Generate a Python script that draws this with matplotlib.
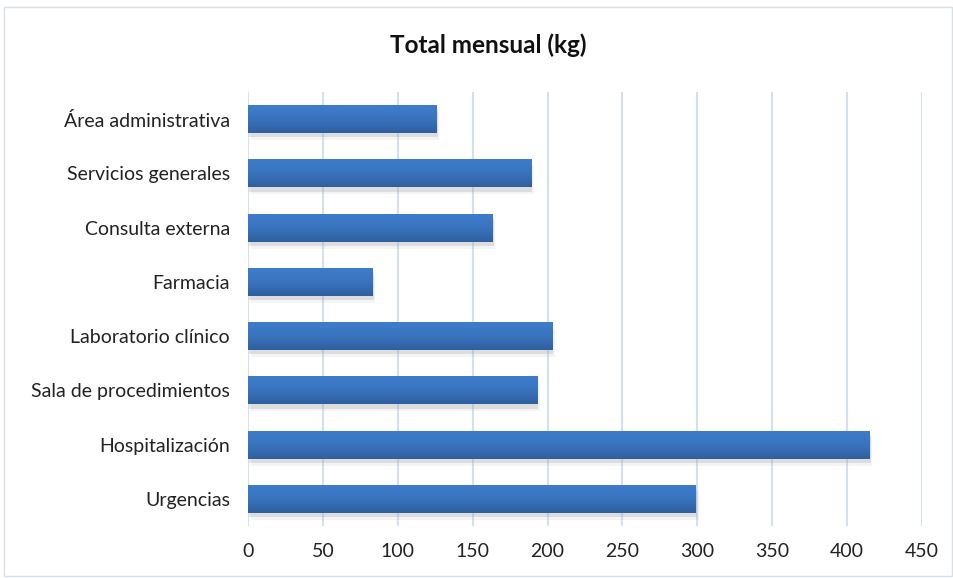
import matplotlib
matplotlib.use("Agg")
import matplotlib.pyplot as plt
import matplotlib.patheffects as pe
import numpy as np
from matplotlib.patches import Rectangle
from matplotlib.colors import LinearSegmentedColormap

categories = ["Urgencias", "Hospitalización", "Sala de procedimientos",
              "Laboratorio clínico", "Farmacia", "Consulta externa",
              "Servicios generales", "Área administrativa"]
values = [299, 415, 193, 203, 83, 163, 189, 126]
xticks = [0, 50, 100, 150, 200, 250, 300, 350, 400, 450]
title = "Total mensual (kg)"

plt.rcParams['font.family'] = ['Lato', 'DejaVu Sans']

fig = plt.figure(figsize=(9.54, 5.78), dpi=100)
fig.patch.set_facecolor("white")
# outer chart border
fig.add_artist(Rectangle((4/954, 2/578), 948/954, 569/578, transform=fig.transFigure,
                         fill=False, edgecolor="#d9dfe8", linewidth=1.0))

ax = fig.add_axes([248/954, 1 - 526/578, (922 - 248)/954, (526 - 92)/578])
ax.set_xlim(0, 450)
ax.set_ylim(-0.5, len(categories) - 0.5)

grid_color = "#d3e0f0"
for t in xticks:
    ax.axvline(t, color=grid_color, linewidth=1.5, zorder=0)

y = np.arange(len(categories))
bars = ax.barh(y, values, height=0.52, color="#3466ad", zorder=2,
               path_effects=[pe.SimplePatchShadow(offset=(1, -3), shadow_rgbFace="#999999", alpha=0.25),
                             pe.SimplePatchShadow(offset=(2, -5), shadow_rgbFace="#aaaaaa", alpha=0.12),
                             pe.Normal()])

grad = np.linspace(0, 1, 100).reshape(-1, 1)
cmap = LinearSegmentedColormap.from_list("g", ["#3e7dcc", "#3a74bf", "#2e5f9e"])
for b in bars:
    x0, y0 = b.get_x(), b.get_y()
    w, h = b.get_width(), b.get_height()
    im = ax.imshow(grad, extent=[x0, x0 + w, y0, y0 + h], origin="lower",
                   cmap=cmap.reversed(), aspect="auto", zorder=3, interpolation="bicubic")
    im.set_clip_path(b)

ax.set_xlim(0, 450)
ax.set_ylim(-0.5, len(categories) - 0.5)
ax.set_xticks(xticks)
ax.set_xticklabels([str(t) for t in xticks], fontsize=14, color="#222222")
ax.set_yticks(y)
ax.set_yticklabels(categories, fontsize=14, color="#222222")
ax.tick_params(axis="both", length=0)
ax.tick_params(axis="x", pad=12)
ax.tick_params(axis="y", pad=13)
for s in ax.spines.values():
    s.set_visible(False)

fig.text(488/954, 1 - 45/578, title, ha="center", va="center",
         fontsize=17.5, fontweight="bold", color="#111111")

fig.savefig("out.png", dpi=100)
